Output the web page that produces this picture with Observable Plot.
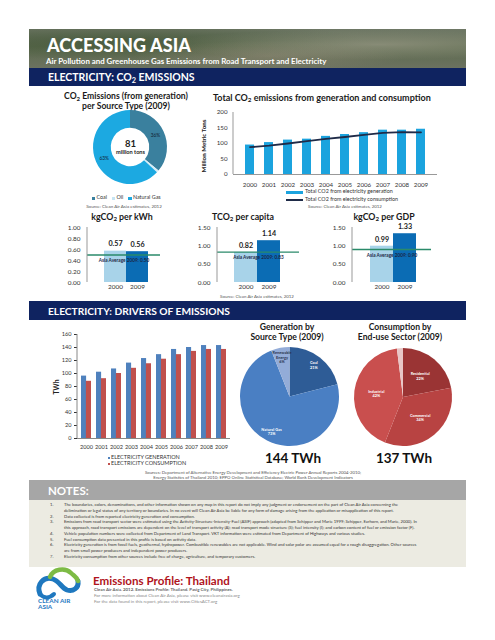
<!DOCTYPE html>
<html><head><meta charset="utf-8">
<script src="https://cdn.jsdelivr.net/npm/d3@7"></script>
<script src="https://cdn.jsdelivr.net/npm/@observablehq/plot@0.6"></script>
<style>
html,body{margin:0;padding:0;background:#fff}
#page{position:relative;width:495px;height:640px;overflow:hidden;background:#fff;font-family:Lato,"Open Sans",sans-serif;color:#222}
.t{position:absolute;white-space:nowrap;line-height:1}
.box{position:absolute}
sub{font-size:70%;vertical-align:-0.3em;line-height:0}
</style></head><body><div id="page"></div><script>
// ---------------- DATA ----------------
const donutSources = ["Coal", "Oil", "Natural Gas"];
const donutShares = [36, 1, 63];
const donutTotal = 81;

const years = ["2000","2001","2002","2003","2004","2005","2006","2007","2008","2009"];
const co2FromGeneration = [95, 103, 111, 114, 123, 129, 135, 143, 143, 146];
const co2FromConsumption = [88, 93, 100, 108, 115, 121, 128, 134, 137, 136];

const intensityYears = ["2000", "2009"];
const kgPerKwh = [0.57, 0.56];
const kgPerKwhAsiaAvg = 0.50;
const tPerCapita = [0.82, 1.14];
const tPerCapitaAsiaAvg = 0.83;
const kgPerGdp = [0.99, 1.33];
const kgPerGdpAsiaAvg = 0.90;

const elecGeneration = [96, 102, 107, 116, 123, 129, 137, 140, 143, 143];
const elecConsumption = [88, 92, 100, 108, 115, 122, 129, 134, 137, 137];

const genSources = ["Coal", "Natural Gas", "Renewable Energy"];
const genShares = [21, 73, 6];
const genTotal = "144 TWh";
const consSectors = ["Residential", "Commercial", "Industrial", "Others"];
const consShares = [22, 34, 42, 2];
const consTotal = "137 TWh";

const notes = [
  ["The boundaries, colors, denominations, and other information shown on any map in this report do not imply any judgment or endorsement on the part of Clean Air Asia concerning the",
   "delimination or legal status of any territory or boundaries.  In no event will Clean Air Asia be liable for any form of damage arising from the application or misapplication of this report."],
  ["Data collected is from reported electricity generation and consumption."],
  ["Emissions from road transport sector were estimated using the Activity-Structure-Intensity-Fuel (ASIF) approach (adapted from Schipper and Marie 1999; Schipper, Earhorn, and Marie, 2000). In",
   "this approach, road transport emissions are dependent on the level of transport activity (A); road transport mode structure (S); fuel intensity (I); and carbon content of fuel or emission factor (F)."],
  ["Vehicle population numbers were collected from Department of Land Transport. VKT information were estimated from Department of Highways and various studies."],
  ["Fuel consumption data presented in this profile is based on activity data."],
  ["Electricity generation is from fossil fuels, geothermal, hydropower.  Combustible renewables are not applicable. Wind and solar polar are assumed equal for a rough disaggregation. Other sources",
   "are from small power producers and independent power producers."],
  ["Electricity consumption from other sources include free of charge, agriculture, and temporary customers."]
];

// ---------------- HELPERS ----------------
const page = document.getElementById("page");
const FONT = 'Lato, "Open Sans", sans-serif';
function box(x, y, w, h, bg) {
  const d = document.createElement("div");
  d.className = "box";
  d.style.cssText = `left:${x}px;top:${y}px;width:${w}px;height:${h}px;background:${bg}`;
  page.appendChild(d); return d;
}
function txt(html, x, y, css = "", anchor = "start", extra = "") {
  const d = document.createElement("div");
  d.className = "t";
  d.innerHTML = html;
  d.style.cssText = css;
  d.style.left = x + "px"; d.style.top = y + "px";
  const tx = anchor === "middle" ? "-50%" : anchor === "end" ? "-100%" : "0";
  d.style.transform = `translate(${tx},-50%) ${extra}`;
  page.appendChild(d); return d;
}
function place(svg, x, y) {
  svg.style.position = "absolute";
  svg.style.left = x + "px"; svg.style.top = y + "px";
  page.appendChild(svg);
}
const baseStyle = (size) => ({fontFamily: FONT, fontSize: size + "px", color: "#333", background: "transparent", overflow: "visible"});
const leftLine = (stroke = "#999") => (index, scales, values, d) =>
  d3.create("svg:line").attr("x1", d.marginLeft).attr("x2", d.marginLeft)
    .attr("y1", d.marginTop).attr("y2", d.height - d.marginBottom)
    .attr("stroke", stroke).node();

function wrapName(name) { return name.length > 12 ? name.split(" ") : [name]; }

function pieMark(names, shares, colors, opts) {
  return (index, scales, values, d) => {
    const w = d.width - d.marginLeft - d.marginRight, h = d.height - d.marginTop - d.marginBottom;
    const cx = d.marginLeft + w / 2, cy = d.marginTop + h / 2, r = Math.min(w, h) / 2;
    const g = d3.create("svg:g").attr("transform", `translate(${cx},${cy})`);
    const arcs = d3.pie().sort(null).value(v => v)(shares);
    const arc = d3.arc().innerRadius(opts.inner * r).outerRadius(r);
    g.selectAll("path").data(arcs).join("path").attr("d", arc).attr("fill", (a, i) => colors[i]);
    const la = d3.arc().innerRadius(opts.labelR * r).outerRadius(opts.labelR * r);
    arcs.forEach((a, i) => {
      if (shares[i] < opts.minLabel) return;
      const [lx, ly] = la.centroid(a);
      const lines = opts.showNames ? [...wrapName(names[i]), shares[i] + "%"] : [shares[i] + "%"];
      const t = g.append("text").attr("text-anchor", "middle")
        .attr("font-size", opts.fontSize).attr("font-weight", opts.weight || "bold")
        .attr("fill", (opts.labelColors && opts.labelColors[i]) || "#fff");
      const lh = opts.fontSize * 1.15;
      lines.forEach((ln, j) => t.append("tspan").attr("x", lx)
        .attr("y", ly + (j - (lines.length - 1) / 2) * lh).attr("dy", "0.35em").text(ln));
    });
    return g.node();
  };
}

// ---------------- HEADER ----------------
const banner = box(29, 29, 437, 39, "");
banner.style.background =
  "radial-gradient(ellipse at 80% 40%, rgba(170,165,150,0.55), rgba(0,0,0,0) 45%)," +
  "radial-gradient(ellipse at 55% 70%, rgba(150,140,120,0.5), rgba(0,0,0,0) 40%)," +
  "radial-gradient(ellipse at 20% 30%, rgba(60,80,50,0.6), rgba(0,0,0,0) 50%)," +
  "linear-gradient(180deg,#6f7866 0%,#5b6a4d 45%,#6c7260 100%)";
txt("ACCESSING ASIA", 47, 45, "color:#fff;font-weight:900;font-size:18px;letter-spacing:0.1px");
txt("Air Pollution and Greenhouse Gas Emissions from Road Transport and Electricity", 46, 61.5, "color:#fff;font-weight:bold;font-size:7.9px");
box(29, 68, 437, 18, "#0f2360");
txt("ELECTRICITY: CO<sub>2</sub> EMISSIONS", 48, 77, "color:#fff;font-weight:bold;font-size:10.5px");

// ---------------- DONUT ----------------
txt("CO<sub>2</sub> Emissions (from generation)", 126, 96, "font-weight:bold;font-size:8.6px;color:#1a1a1a", "middle");
txt("per Source Type (2009)", 126, 106, "font-weight:bold;font-size:8.6px;color:#1a1a1a", "middle");
const donutColors = ["#3a809e", "#d6edf7", "#1ca9e1"];
place(Plot.plot({
  width: 74, height: 74, margin: 0, style: baseStyle(6),
  x: {axis: null}, y: {axis: null},
  marks: [
    pieMark(donutSources, donutShares, donutColors, {inner: 0.52, labelR: 0.76, minLabel: 5, fontSize: 4.8, showNames: false, weight: "normal", labelColors: ["#123", "#123", "#123"]}),
    Plot.text([donutTotal], {text: d => String(d), frameAnchor: "middle", dy: -4, fontSize: 9.5, fontWeight: "bold", fill: "#222"}),
    Plot.text(["million tons"], {text: d => d, frameAnchor: "middle", dy: 5, fontSize: 5.6, fontWeight: "bold", fill: "#222"})
  ]
}), 93, 110);
// legend
{
  let lx = 92;
  donutSources.forEach((s, i) => {
    box(lx, 196.8, 3.2, 3.2, donutColors[i] === "#d6edf7" ? "#c6e4f2" : donutColors[i]);
    const el = txt(s, lx + 4.5, 198.3, "font-size:5.4px;color:#333");
    lx += 4.5 + el.getBoundingClientRect().width + 5;
  });
}
txt("Source: Clean Air Asia estimates, 2012", 124, 207, "font-size:4.5px;color:#555", "middle");

// ---------------- TOTAL CO2 ----------------
txt("Total CO<sub>2</sub> emissions from generation and consumption", 213, 97, "font-weight:bold;font-size:9px;color:#1a1a1a");
txt("Million Metric Tons", 204, 146, "font-weight:bold;font-size:6.2px;color:#222", "middle", "rotate(-90deg)");
const co2Rows = years.map((year, i) => ({year, gen: co2FromGeneration[i], cons: co2FromConsumption[i]}));
place(Plot.plot({
  width: 250, height: 85, marginLeft: 38, marginRight: 8, marginTop: 7, marginBottom: 16,
  style: baseStyle(6.2),
  x: {domain: years, padding: 0.55, tickSize: 0, tickPadding: 8, label: null},
  y: {domain: [0, 200], ticks: [0, 50, 100, 150, 200], tickSize: 0, tickPadding: 6, label: null},
  marks: [
    Plot.barY(co2Rows, {x: "year", y: "gen", fill: "#1ba3de"}),
    Plot.line(co2Rows, {x: "year", y: "cons", stroke: "#1f2b48", strokeWidth: 1.8}),
    Plot.ruleY([0], {stroke: "#999"}),
    leftLine("#999")
  ]
}), 195, 105);
box(286, 190.5, 17, 3.5, "#1ba3de");
txt("Total CO2 from electricity generation", 305, 192.3, "font-size:5.4px;color:#333");
box(286, 199, 17, 1.6, "#1f2b48");
txt("Total CO2 from electricity consumption", 305, 199.8, "font-size:5.4px;color:#333");
txt("Source: Clean Air Asia estimates, 2012", 345, 206.5, "font-size:4.4px;color:#555", "middle");

// ---------------- INTENSITY CHARTS ----------------
function intensity(title, vals, avg, yMax, step, left, width, mL, mR, range, titleX) {
  txt(title, titleX, 217, "font-weight:bold;font-size:8.8px;color:#1a1a1a", "middle");
  const rows = intensityYears.map((year, i) => ({year, value: vals[i]}));
  place(Plot.plot({
    width, height: 70, marginLeft: mL, marginRight: mR, marginTop: 5, marginBottom: 10,
    style: baseStyle(6.4),
    x: {domain: intensityYears, range, padding: 0, tickSize: 0, tickPadding: 1.5, label: null},
    y: {domain: [0, yMax], ticks: d3.range(0, yMax + 1e-9, step), tickFormat: d3.format(".2f"), tickSize: 0, tickPadding: 7, label: null},
    color: {domain: intensityYears, range: ["#a8d3e9", "#0b6cb4"]},
    marks: [
      Plot.barY(rows, {x: "year", y: "value", fill: "year"}),
      Plot.text(rows, {x: "year", y: "value", text: d => d3.format(".2f")(d.value), dy: -7, fontSize: 7.2, fontWeight: "bold", fill: "#222"}),
      Plot.ruleY([avg], {stroke: "#2a8a6a", strokeWidth: 1.3}),
      Plot.text([avg], {y: d => d, text: d => `Asia Average 2009: ${d3.format(".2f")(d)}`, frameAnchor: "middle", dy: 5.5, fontSize: 4.7, fontWeight: "bold", fill: "#1c2747"}),
      leftLine("#999")
    ]
  }), left, 222);
}
intensity("kgCO<sub>2</sub> per kWh", kgPerKwh, kgPerKwhAsiaAvg, 1, 0.2, 40, 130, 47, 10, [63, 108], 122);
intensity("TCO<sub>2</sub> per capita", tPerCapita, tPerCapitaAsiaAvg, 1.5, 0.5, 170, 135, 47, 6, [63, 110], 243);
intensity("kgCO<sub>2</sub> per GDP", kgPerGdp, kgPerGdpAsiaAvg, 1.5, 0.5, 305, 130, 47, 4, [65, 111], 384);
txt("Source: Clean Air Asia estimates, 2012", 257, 297, "font-size:4.4px;color:#555", "middle");

// ---------------- DRIVERS ----------------
box(29, 301, 437, 19, "#0f2360");
txt("ELECTRICITY: DRIVERS OF EMISSIONS", 48, 310.5, "color:#fff;font-weight:bold;font-size:10.2px");
txt("TWh", 56, 387, "font-weight:bold;font-size:6.8px;color:#222", "middle", "rotate(-90deg)");
const elecRows = years.map((year, i) => ({year, gen: elecGeneration[i], cons: elecConsumption[i]}));
place(Plot.plot({
  width: 215, height: 128, marginLeft: 52, marginRight: 10, marginTop: 6, marginBottom: 18,
  style: baseStyle(5.6),
  x: {domain: years, paddingInner: 0.36, paddingOuter: 0.18, tickSize: 0, tickPadding: 7, label: null},
  y: {domain: [0, 160], ticks: d3.range(0, 161, 20), tickSize: 3, tickPadding: 3, label: null},
  marks: [
    Plot.barY(elecRows, {x: "year", y: "gen", fill: "#4f81bd", insetRight: 4.9}),
    Plot.barY(elecRows, {x: "year", y: "cons", fill: "#c0504d", insetLeft: 4.9}),
    Plot.ruleY([0], {stroke: "#888"}),
    leftLine("#888")
  ]
}), 25, 328);
box(107.5, 456.5, 2.6, 2.6, "#4f81bd");
txt("ELECTRICITY GENERATION", 111, 458, "font-size:5.5px;color:#333");
box(107.5, 462.7, 2.6, 2.6, "#c0504d");
txt("ELECTRICITY CONSUMPTION", 111, 464.2, "font-size:5.5px;color:#333");

// pies
txt("Generation by", 287, 327, "font-weight:bold;font-size:8.6px;color:#1a1a1a", "middle");
txt("Source Type (2009)", 287, 337, "font-weight:bold;font-size:8.6px;color:#1a1a1a", "middle");
txt("Consumption by", 400, 327, "font-weight:bold;font-size:8.6px;color:#1a1a1a", "middle");
txt("End-use Sector (2009)", 400, 337, "font-weight:bold;font-size:8.6px;color:#1a1a1a", "middle");
place(Plot.plot({
  width: 99, height: 99, margin: 0, style: baseStyle(4),
  x: {axis: null}, y: {axis: null},
  marks: [pieMark(genSources, genShares, ["#2e5c96", "#4a7fc3", "#93acd8"],
    {inner: 0, labelR: 0.8, minLabel: 3, fontSize: 3.9, showNames: true, labelColors: ["#fff", "#fff", "#2a3550"]})]
}), 240, 347);
place(Plot.plot({
  width: 98, height: 98, margin: 0, style: baseStyle(4),
  x: {axis: null}, y: {axis: null},
  marks: [pieMark(consSectors, consShares, ["#9a3434", "#b84342", "#c94f4e", "#e8c6c6"],
    {inner: 0, labelR: 0.55, minLabel: 5, fontSize: 3.9, showNames: true})]
}), 353.5, 348);
txt(genTotal, 293, 459, "font-weight:bold;font-size:13.5px;color:#111", "middle");
txt(consTotal, 404, 459, "font-weight:bold;font-size:13.5px;color:#111", "middle");
txt("Sources: Department of Alternative Energy Development and Efficiency Electric Power Annual Reports 2004-2010;", 253, 472.5, "font-size:4.3px;color:#555", "middle");
txt("Energy Statistics of Thailand 2010;  EPPO Online Statistical Database; World Bank Development Indicators", 253, 477.5, "font-size:4.3px;color:#555", "middle");

// ---------------- NOTES ----------------
box(29, 480, 437, 20, "#a6a6a6");
txt("NOTES:", 48, 490.5, "color:#fff;font-weight:bold;font-size:11.5px");
box(29, 500, 437, 67, "#ecebe2");
{
  let y = 505.3;
  notes.forEach((lines, i) => {
    txt((i + 1) + ".", 50, y, "font-size:4.2px;color:#333");
    lines.forEach(line => {
      txt(line, 64, y, "font-size:4.2px;color:#333");
      y += 5.72;
    });
  });
}

// ---------------- FOOTER ----------------
const logo = document.createElementNS("http://www.w3.org/2000/svg", "svg");
logo.setAttribute("width", "50"); logo.setAttribute("height", "44");
logo.innerHTML = `
  <path d="M6,28 C2,18 10,10 19,13 C25,15 28,22 33,24 C39,26 45,22 44,15" fill="none" stroke="#1f78bf" stroke-width="5" stroke-linecap="round"/>
  <path d="M16,11 C19,3 31,1 37,7 C40,10 43,11 44,15" fill="none" stroke="#7dbb45" stroke-width="4.5" stroke-linecap="round"/>
  <path d="M6,28 C10,33 16,32 20,28" fill="none" stroke="#1f78bf" stroke-width="4" stroke-linecap="round"/>`;
place(logo, 34, 566);
txt("CLEAN AIR", 38, 601, "font-weight:bold;font-size:6.4px;color:#1f78bf");
txt("ASIA", 38, 607, "font-weight:bold;font-size:6.4px;color:#1f78bf");
txt("Emissions Profile: Thailand", 93, 581, "font-weight:bold;font-size:11.6px;color:#b0141d");
txt("Clean Air Asia. 2012. Emissions Profile: Thailand. Pasig City, Philippines.", 94, 589.5, "font-weight:bold;font-size:4.4px;color:#666");
txt("For more information about Clean Air Asia, please visit www.cleanairasia.org", 94, 595.8, "font-size:4.4px;color:#888");
txt("For the data found in this report, please visit www.CitiesACT.org", 94, 601.8, "font-size:4.4px;color:#888");
</script></body></html>
